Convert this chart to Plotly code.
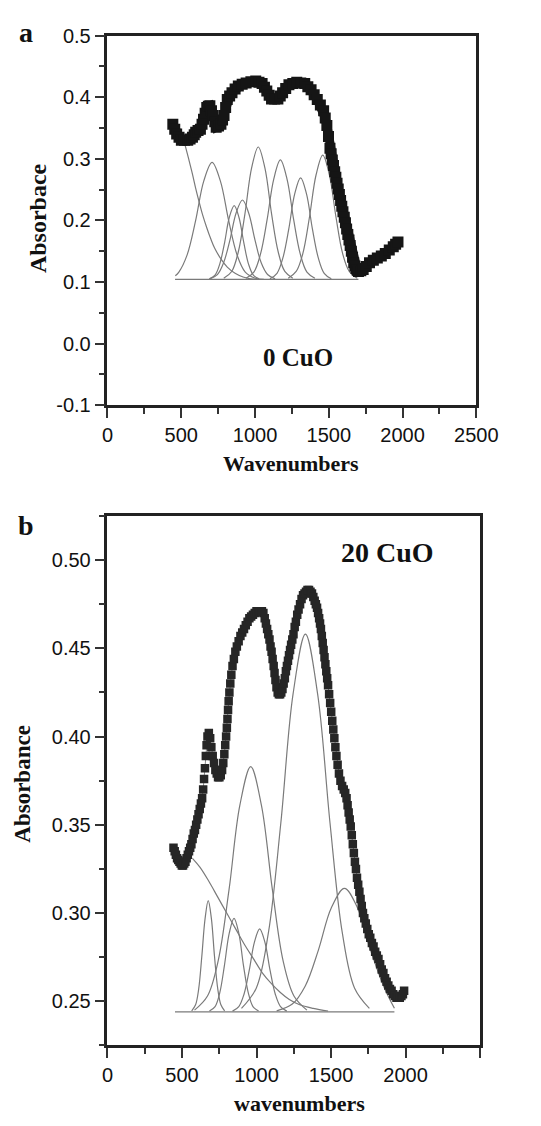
import plotly.graph_objects as go

# ---------------- Panel a : 0 CuO ----------------
a_exp_x = [443, 456, 469, 485, 501, 522, 544, 560, 576, 588, 598, 614, 630, 641, 651, 662, 673,
           684, 694, 705, 716, 727, 737, 753, 769, 780, 790, 801, 812, 828, 844, 865, 887, 913,
           940, 972, 1005, 1027, 1048, 1064, 1080, 1096, 1112, 1133, 1155, 1171, 1187, 1208,
           1230, 1256, 1283, 1310, 1337, 1358, 1380, 1401, 1422, 1443, 1465, 1476, 1487, 1498,
           1508, 1516, 1524, 1532, 1540, 1548, 1556, 1564, 1572, 1580, 1588, 1596, 1605, 1613,
           1621, 1629, 1637, 1645, 1653, 1661, 1669, 1677, 1685, 1693, 1701, 1717, 1733, 1754,
           1776, 1802, 1829, 1856, 1883, 1910, 1937, 1953, 1969]
a_exp_y = [0.356, 0.348, 0.340, 0.335, 0.330, 0.330, 0.330, 0.332, 0.335, 0.339, 0.343, 0.346,
           0.348, 0.356, 0.364, 0.374, 0.383, 0.385, 0.386, 0.378, 0.370, 0.360, 0.351, 0.353,
           0.356, 0.363, 0.370, 0.383, 0.396, 0.402, 0.407, 0.413, 0.418, 0.421, 0.423, 0.425,
           0.426, 0.424, 0.422, 0.416, 0.410, 0.403, 0.397, 0.397, 0.397, 0.402, 0.407, 0.414,
           0.420, 0.422, 0.424, 0.423, 0.422, 0.417, 0.412, 0.404, 0.396, 0.387, 0.378, 0.366,
           0.354, 0.336, 0.317, 0.308, 0.298, 0.289, 0.279, 0.270, 0.260, 0.251, 0.242, 0.232,
           0.223, 0.214, 0.205, 0.196, 0.186, 0.177, 0.168, 0.159, 0.150, 0.140, 0.131, 0.126,
           0.122, 0.119, 0.117, 0.118, 0.120, 0.125, 0.131, 0.135, 0.139, 0.142, 0.146, 0.152,
           0.157, 0.161, 0.165]

a_base_x = [458, 1701]
a_base_y = [0.104, 0.104]

a_c1_x = [523, 550, 576, 598, 619, 646, 673, 700, 726, 770, 812, 865, 919, 970, 1026]
a_c1_y = [0.325, 0.300, 0.275, 0.252, 0.232, 0.208, 0.188, 0.170, 0.155, 0.137, 0.124, 0.114,
          0.108, 0.105, 0.104]
a_c2_x = [460, 484, 540, 597, 653, 709, 765, 822, 878, 934, 1002, 1060]
a_c2_y = [0.110, 0.116, 0.144, 0.199, 0.264, 0.294, 0.264, 0.199, 0.144, 0.116, 0.106, 0.104]
a_c3_x = [690, 729, 761, 794, 826, 859, 891, 924, 956, 989, 1028]
a_c3_y = [0.105, 0.111, 0.129, 0.164, 0.205, 0.224, 0.205, 0.164, 0.129, 0.111, 0.105]
a_c4_x = [694, 745, 787, 830, 872, 915, 957, 1000, 1042, 1085, 1136]
a_c4_y = [0.105, 0.112, 0.131, 0.168, 0.212, 0.233, 0.212, 0.168, 0.131, 0.112, 0.105]
a_c5_x = [788, 842, 887, 932, 977, 1022, 1067, 1112, 1157, 1202, 1256]
a_c5_y = [0.106, 0.117, 0.149, 0.211, 0.285, 0.319, 0.285, 0.211, 0.149, 0.117, 0.106]
a_c6_x = [938, 992, 1037, 1082, 1127, 1172, 1217, 1262, 1307, 1352, 1406]
a_c6_y = [0.106, 0.116, 0.145, 0.201, 0.267, 0.298, 0.267, 0.201, 0.145, 0.116, 0.106]
a_c7_x = [1101, 1149, 1189, 1229, 1269, 1309, 1349, 1389, 1429, 1469, 1517]
a_c7_y = [0.105, 0.114, 0.139, 0.186, 0.243, 0.269, 0.243, 0.186, 0.139, 0.114, 0.105]
a_c8_x = [1225, 1279, 1324, 1369, 1414, 1459, 1504, 1549, 1594, 1639, 1693]
a_c8_y = [0.106, 0.117, 0.146, 0.205, 0.274, 0.306, 0.274, 0.205, 0.146, 0.117, 0.106]

a_ytick_vals = [-0.1, 0.0, 0.1, 0.2, 0.3, 0.4, 0.5]
a_ytick_text = ["-0.1", "0.0", "0.1", "0.2", "0.3", "0.4", "0.5"]
a_xtick_vals = [0, 500, 1000, 1500, 2000, 2500]
a_xtick_text = ["0", "500", "1000", "1500", "2000", "2500"]

# ---------------- Panel b : 20 CuO ----------------
b_exp_x = [443, 451, 459, 467, 475, 483, 491, 499, 507, 515, 523, 531, 539, 547, 555, 563, 571,
           579, 587, 595, 603, 611, 619, 627, 635, 642, 648, 654, 660, 665, 671, 680, 689, 697,
           706, 715, 724, 733, 742, 751, 760, 769, 777, 784, 790, 796, 801, 805, 809, 813, 818,
           824, 831, 839, 848, 858, 868, 880, 892, 904, 916, 928, 940, 952, 964, 976, 988, 1000,
           1012, 1024, 1036, 1046, 1055, 1063, 1071, 1079, 1087, 1094, 1101, 1108, 1115, 1121,
           1127, 1134, 1142, 1150, 1158, 1166, 1174, 1182, 1190, 1197, 1204, 1211, 1218, 1225,
           1232, 1240, 1248, 1256, 1264, 1273, 1282, 1292, 1302, 1312, 1322, 1332, 1342, 1352,
           1362, 1372, 1381, 1390, 1398, 1406, 1413, 1420, 1426, 1432, 1438, 1444, 1450, 1456,
           1462, 1468, 1474, 1480, 1487, 1494, 1501, 1508, 1515, 1522, 1529, 1536, 1544, 1553,
           1563, 1574, 1585, 1595, 1604, 1611, 1618, 1625, 1632, 1639, 1646, 1653, 1660, 1667,
           1674, 1682, 1690, 1698, 1706, 1714, 1723, 1733, 1743, 1753, 1763, 1774, 1785, 1796,
           1807, 1818, 1829, 1840, 1851, 1862, 1873, 1884, 1895, 1906, 1917, 1928, 1939, 1950,
           1961, 1972, 1982, 1990]
b_exp_y = [0.337, 0.335, 0.333, 0.331, 0.330, 0.329, 0.328, 0.327, 0.327, 0.328, 0.329, 0.331,
           0.333, 0.335, 0.337, 0.339, 0.342, 0.345, 0.347, 0.350, 0.353, 0.356, 0.359, 0.362,
           0.365, 0.370, 0.376, 0.382, 0.389, 0.395, 0.400, 0.402, 0.399, 0.394, 0.389, 0.385,
           0.381, 0.379, 0.377, 0.377, 0.378, 0.381, 0.385, 0.390, 0.395, 0.400, 0.405, 0.410,
           0.415, 0.420, 0.425, 0.430, 0.435, 0.440, 0.444, 0.448, 0.451, 0.454, 0.457, 0.459,
           0.461, 0.463, 0.465, 0.467, 0.468, 0.469, 0.470, 0.471, 0.471, 0.471, 0.471, 0.470,
           0.467, 0.464, 0.461, 0.458, 0.455, 0.451, 0.448, 0.444, 0.440, 0.436, 0.432, 0.428,
           0.425, 0.424, 0.424, 0.425, 0.427, 0.430, 0.433, 0.437, 0.440, 0.443, 0.446, 0.449,
           0.452, 0.455, 0.458, 0.462, 0.465, 0.469, 0.472, 0.475, 0.478, 0.480, 0.481, 0.482,
           0.483, 0.483, 0.482, 0.481, 0.479, 0.477, 0.475, 0.473, 0.470, 0.467, 0.464, 0.461,
           0.457, 0.453, 0.449, 0.445, 0.441, 0.437, 0.433, 0.429, 0.424, 0.419, 0.414, 0.409,
           0.404, 0.399, 0.394, 0.389, 0.384, 0.379, 0.375, 0.372, 0.370, 0.368, 0.365, 0.361,
           0.357, 0.353, 0.349, 0.344, 0.339, 0.334, 0.329, 0.325, 0.320, 0.316, 0.312, 0.308,
           0.304, 0.300, 0.297, 0.294, 0.291, 0.288, 0.286, 0.283, 0.281, 0.278, 0.276, 0.274,
           0.271, 0.268, 0.266, 0.263, 0.261, 0.259, 0.257, 0.256, 0.254, 0.253, 0.252, 0.252,
           0.252, 0.253, 0.254, 0.256]

b_base_x = [453, 1925]
b_base_y = [0.244, 0.244]

b_c1_x = [570, 620, 680, 740, 800, 860, 920, 980, 1040, 1100, 1160, 1220, 1290, 1380, 1480]
b_c1_y = [0.331, 0.326, 0.318, 0.309, 0.300, 0.291, 0.282, 0.274, 0.266, 0.260, 0.255, 0.251,
          0.248, 0.246, 0.2445]
b_c2_x = [565, 591, 612, 633, 655, 676, 697, 718, 740, 761, 786]
b_c2_y = [0.2446, 0.248, 0.257, 0.2755, 0.297, 0.307, 0.297, 0.2755, 0.257, 0.248, 0.2446]
b_c3_x = [684, 722, 754, 785, 817, 849, 881, 912, 944, 976, 1014]
b_c3_y = [0.2445, 0.247, 0.255, 0.2705, 0.2886, 0.297, 0.2886, 0.2705, 0.255, 0.247, 0.2445]
b_c4_x = [839, 881, 916, 951, 986, 1021, 1056, 1091, 1126, 1161, 1203]
b_c4_y = [0.2444, 0.247, 0.254, 0.2675, 0.2835, 0.291, 0.2835, 0.2675, 0.254, 0.247, 0.2444]
b_c5_x = [584, 671, 743, 816, 888, 961, 1033, 1106, 1178, 1251, 1338]
b_c5_y = [0.245, 0.253, 0.273, 0.3135, 0.361, 0.383, 0.361, 0.3135, 0.273, 0.253, 0.245]
b_c6_x = [899, 998, 1080, 1163, 1245, 1328, 1410, 1493, 1575, 1658, 1757]
b_c6_y = [0.246, 0.2574, 0.289, 0.351, 0.424, 0.458, 0.424, 0.351, 0.289, 0.2574, 0.246]
b_c7_x = [1135, 1240, 1327, 1415, 1502, 1590, 1677, 1765, 1852, 1925]
b_c7_y = [0.2446, 0.2484, 0.2587, 0.279, 0.303, 0.314, 0.303, 0.279, 0.2587, 0.246]

b_ytick_vals = [0.25, 0.30, 0.35, 0.40, 0.45, 0.50]
b_ytick_text = ["0.25", "0.30", "0.35", "0.40", "0.45", "0.50"]
b_xtick_vals = [0, 500, 1000, 1500, 2000, 2500]
b_xtick_text = ["0", "500", "1000", "1500", "2000", ""]

# ---------------- figure ----------------
W, H = 541, 1126
def px(x):
    return x / W
def py(y):
    return 1 - y / H

COMP = dict(color="#7a7a7a", width=1.2, shape="spline", smoothing=1.0)
fig = go.Figure()

for cx, cy in [(a_base_x, a_base_y), (a_c1_x, a_c1_y), (a_c2_x, a_c2_y), (a_c3_x, a_c3_y),
               (a_c4_x, a_c4_y), (a_c5_x, a_c5_y), (a_c6_x, a_c6_y), (a_c7_x, a_c7_y),
               (a_c8_x, a_c8_y)]:
    fig.add_trace(go.Scatter(x=cx, y=cy, mode="lines", line=COMP, xaxis="x", yaxis="y",
                             hoverinfo="skip"))
fig.add_trace(go.Scatter(x=a_exp_x, y=a_exp_y, mode="lines+markers",
                         line=dict(color="#151515", width=9),
                         marker=dict(symbol="square", size=11, color="#151515"),
                         xaxis="x", yaxis="y"))

for cx, cy in [(b_base_x, b_base_y), (b_c1_x, b_c1_y), (b_c2_x, b_c2_y), (b_c3_x, b_c3_y),
               (b_c4_x, b_c4_y), (b_c5_x, b_c5_y), (b_c6_x, b_c6_y), (b_c7_x, b_c7_y)]:
    fig.add_trace(go.Scatter(x=cx, y=cy, mode="lines", line=COMP, xaxis="x2", yaxis="y2",
                             hoverinfo="skip"))
fig.add_trace(go.Scatter(x=b_exp_x, y=b_exp_y, mode="lines+markers",
                         line=dict(color="#8a8a8a", width=1),
                         marker=dict(symbol="square", size=8.5, color="#262626"),
                         xaxis="x2", yaxis="y2"))

TICKFONT = dict(family="Liberation Sans, Arial, sans-serif", size=20, color="#111")
AX = dict(showgrid=False, zeroline=False, showline=True, linecolor="#222", linewidth=2.5,
          mirror=True, ticks="outside", ticklen=10, tickwidth=2, tickcolor="#333",
          tickfont=TICKFONT)

fig.update_layout(
    width=W, height=H, margin=dict(l=0, r=0, t=0, b=0),
    paper_bgcolor="white", plot_bgcolor="white", showlegend=False,
    xaxis=dict(AX, domain=[px(107), px(496)], range=[0, 2500], anchor="y",
               tickvals=a_xtick_vals, ticktext=a_xtick_text,
               minor=dict(dtick=250, tick0=0, ticklen=6, tickwidth=1.5, tickcolor="#333",
                          ticks="outside")),
    yaxis=dict(AX, domain=[py(402), py(25)], range=[-0.1, 0.5], anchor="x",
               tickvals=a_ytick_vals, ticktext=a_ytick_text,
               minor=dict(dtick=0.05, tick0=0, ticklen=6, tickwidth=1.5, tickcolor="#333",
                          ticks="outside")),
    xaxis2=dict(AX, domain=[px(107), px(500)], range=[0, 2500], anchor="y2",
                tickvals=b_xtick_vals, ticktext=b_xtick_text,
                minor=dict(dtick=250, tick0=0, ticklen=6, tickwidth=1.5, tickcolor="#333",
                           ticks="outside")),
    yaxis2=dict(AX, domain=[py(1055), py(515)], range=[0.225, 0.525], anchor="x2",
                tickvals=b_ytick_vals, ticktext=b_ytick_text,
                minor=dict(dtick=0.025, tick0=0.225, ticklen=6, tickwidth=1.5,
                           tickcolor="#333", ticks="outside")),
)

SERIF = "Liberation Serif, Times New Roman, serif"
def ann(text, x, y, size, rot=0, xref="paper", yref="paper"):
    fig.add_annotation(text="<b>%s</b>" % text, x=x, y=y, xref=xref, yref=yref,
                       showarrow=False, textangle=rot, xanchor="center", yanchor="middle",
                       font=dict(family=SERIF, size=size, color="#111"))

ann("a", px(21), py(22), 28)
ann("b", px(21), py(525), 28)
ann("Absorbace", px(34), py(211), 24, rot=-90)
ann("Absorbance", px(17), py(788), 23, rot=-90)
ann("Wavenumbers", px(301), py(462), 22)
ann("wavenumbers", px(310), py(1114), 22)
ann("0 CuO", 1290, -0.022, 25, xref="x", yref="y")
ann("20 CuO", 1880, 0.504, 28, xref="x2", yref="y2")

fig.write_html("out.html", config={"displayModeBar": False},
               post_script="document.body.style.margin='0px';")
